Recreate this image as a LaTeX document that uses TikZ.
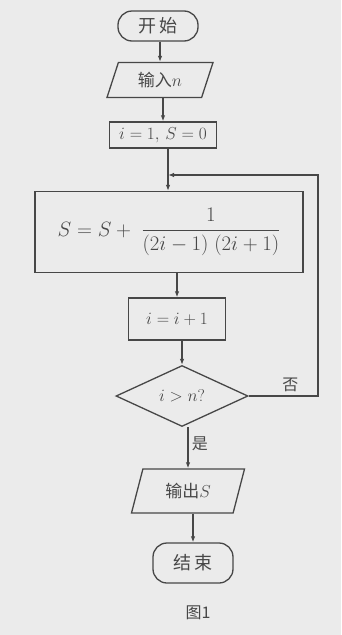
\documentclass[tikz,border=0pt]{standalone}
\usepackage{amsmath}
\usepackage{fontspec}
\newfontfamily\cjk{Noto Sans CJK SC}
\usetikzlibrary{arrows.meta,shapes.geometric}

\begin{document}
\begin{tikzpicture}[
          x=1pt, y=-1pt, >={Latex[length=6pt,width=4.5pt]},
          font=\fontsize{17}{19}\selectfont, color=black!72,
          term/.style={rectangle, draw, rounded corners=14pt,
              minimum width=80pt, line width=1.3pt},
          io/.style={trapezium, draw, trapezium left angle=63,
              trapezium right angle=117, trapezium stretches body,
              line width=1.3pt},
          proc/.style={rectangle, draw, line width=1.3pt},
          dec/.style={diamond, draw, aspect=2.2, inner sep=0pt,
              minimum width=132pt, minimum height=61pt, line width=1.3pt},
          arr/.style={->, line width=1.3pt},
          lbl/.style={font=\cjk\fontsize{16}{18}\selectfont}
      ]
      \fill[black!8] (0,0) rectangle (341,635);
      \node[term, minimum height=30pt] (start) at (158,26)  {\cjk\fontsize{18}{20}\selectfont 开\,始};
      \node[io, minimum width=106pt, minimum height=35pt] (in) at (160,80) {{\cjk 输入}$n$};
      \node[proc, minimum width=107pt, minimum height=26pt] (init) at (163,135) {$i=1,\,S=0$};
      \coordinate (jn) at (168,175);
      \node[proc, minimum width=268pt, minimum height=81pt, font=\fontsize{21}{23}\selectfont] (sum) at (169,232)
          {$S=S+\;\dfrac{1}{(2i-1)\;(2i+1)}$};
      \node[proc, minimum width=97pt, minimum height=42pt] (inc) at (177,319) {$i=i+1$};
      \node[dec] (dia) at (182,396) {$i>n$?};
      \node[io, minimum width=113pt, minimum height=44pt] (out) at (188,491) {{\cjk 输出}$S$};
      \node[term, minimum height=40pt] (stop) at (193,563) {\cjk\fontsize{18}{20}\selectfont 结\,束};
      \node[lbl] (cap) at (198,613) {图1};
      \coordinate (rt) at (318,175);
      \draw[arr] (start.south -| in.north) -- (in.north);
      \draw[arr] (in.south -| init.north) -- (init.north);
      \draw[line width=1.3pt] (init.south -| jn) -- (jn);
      \draw[arr] (jn) -- (jn |- sum.north);
      \draw[arr] (sum.south -| inc.north) -- (inc.north);
      \draw[arr] (inc.south -| dia.north) -- (dia.north);
      \draw[arr] (dia.south -| out.north) -- node[lbl, right, pos=0.4] {是} (out.north);
      \draw[arr] (out.south -| stop.north) -- (stop.north);
      \draw[arr] (dia.east) -| node[lbl, above, pos=0.3] {否} (rt) -- (jn);
      \end{tikzpicture}
\end{document}
